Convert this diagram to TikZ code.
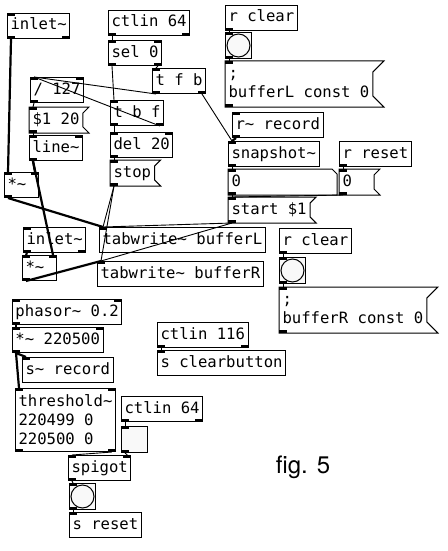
\documentclass[tikz,border=0pt]{standalone}
\usepackage{fontspec}
\newfontfamily\pdmono{DejaVu Sans Mono}
\newfontfamily\capfont{TeX Gyre Heros}
\newcommand{\pdfont}{\pdmono\fontsize{15.6}{19}\selectfont}
\newcommand{\pdtl}{\textasciitilde}

\begin{document}
\begin{tikzpicture}[x=1pt, y=-1pt]
    \tikzstyle{box}=[anchor=north west, inner xsep=3pt, inner ysep=0pt, font=\pdfont, align=left, fill=white, line width=1pt]
    \tikzstyle{one}=[box, minimum height=25pt, text height=11.5pt, text depth=3.5pt]
    \tikzstyle{obj}=[one, draw]
    \tikzstyle{bng}=[draw, anchor=north west, minimum size=26pt, inner sep=0pt, fill=gray!5, line width=1pt]
    \tikzstyle{edge}=[line width=1pt]
    \tikzstyle{ctl}=[line width=0.9pt]
    \tikzstyle{sig}=[line width=2.2pt]
  \useasboundingbox (0,0) rectangle (447,551);
  % left patch: recording
  \node[obj] (inl) at (7,13) {inlet\pdtl};
  \node[obj] (ctlA) at (108,10) {ctlin 64};
  \node[obj] (sel) at (108,40) {sel 0};
  \node[obj] (tfb) at (152,68) {t f b};
  \node[obj] (div) at (30,77) {/ 127};
  \node[one] (ramp) at (29,107) {\$1 20};
  \node[obj] (line) at (29,135) {line\pdtl};
  \node[obj] (tbf) at (110,100) {t b f};
  \node[obj] (del) at (110,132) {del 20};
  \node[one] (stop) at (110,160) {stop};
  \node[obj, text width=28pt] (mulA) at (4,172) {*\pdtl};
  \node[obj] (inl2) at (23,227) {inlet\pdtl};
  \node[obj, text width=28pt] (mulB) at (22,255) {*\pdtl};
  \node[obj] (twL) at (99,227) {tabwrite\pdtl{} bufferL};
  \node[obj] (twR) at (97,261) {tabwrite\pdtl{} bufferR};
  % position
  \node[obj] (rrec) at (232,112) {r\pdtl{} record};
  \node[obj] (snap) at (228,141) {snapshot\pdtl};
  \node[one, text width=102pt] (num) at (228,169) {0};
  \node[one] (start) at (228,197) {start \$1};
  \node[obj] (rrst) at (339,141) {r reset};
  \node[one, text width=28pt] (zero) at (339,169) {0};
  % clearing
  \node[obj] (clrA) at (225,5) {r clear};
  \node[bng] (bngA) at (225,32) {};
  \node[box, minimum height=45pt] (setL) at (225,61) {;\\bufferL const 0};
  \node[obj] (clrB) at (279,228) {r clear};
  \node[bng] (bngB) at (279,257) {};
  \node[box, minimum height=45pt] (setR) at (279,287) {;\\bufferR const 0};
  % bottom patch
  \node[obj] (phas) at (12,299) {phasor\pdtl{} 0.2};
  \node[obj] (mulC) at (12,327) {*\pdtl{} 220500};
  \node[obj] (srec) at (22,357) {s\pdtl{} record};
  \node[box, draw, minimum height=63pt] (thr) at (15,388) {threshold\pdtl\\220499 0\\220500 0};
  \node[obj] (ctlC) at (157,322) {ctlin 116};
  \node[obj] (sclr) at (157,350) {s clearbutton};
  \node[obj] (ctlD) at (121,396) {ctlin 64};
  \node[bng] (tgl) at (121,426) {};
  \node[obj] (spig) at (68,455) {spigot};
  \node[bng] (bngC) at (69,483) {};
  \node[obj] (srst) at (69,512) {s reset};
  \node[font=\capfont\fontsize{24}{28}\selectfont] (cap) at (303,467) {fig. 5};

  % message and number outlines
  \foreach \m/\d in {ramp/6, stop/6, start/6, zero/6, setL/11, setR/11}
    \draw[edge] (\m.north west) -- ([xshift=\d]\m.north east) -- ([yshift=-\d]\m.north east) -- ([yshift=\d]\m.south east) -- ([xshift=\d]\m.south east) -- (\m.south west) -- cycle;
  \draw[edge] (num.north west) -- ([xshift=-5]num.north east) -- ([yshift=-5]num.north east) -- (num.south east) -- (num.south west) -- cycle;
  \foreach \b in {bngA, bngB, bngC}
    \draw[edge] (\b.center) circle (11.5);

  % inlets and outlets
  \foreach \n in {inl,sel,tfb,div,ramp,line,tbf,del,stop,mulA,inl2,mulB,twL,twR,rrec,snap,num,start,zero,bngA,setL,bngB,setR,phas,mulC,srec,thr,sclr,tgl,spig,bngC,srst}
    \fill (\n.north west) rectangle ++(8,3);
  \foreach \n in {sel,div,line,del,mulA,mulB,phas,mulC,thr,spig}
    \fill (\n.north east) rectangle ++(-8,3);
  \foreach \n in {inl,ctlA,sel,tfb,div,ramp,line,tbf,del,stop,mulA,inl2,mulB,rrec,snap,num,start,rrst,zero,clrA,bngA,setL,clrB,bngB,setR,phas,mulC,thr,ctlC,ctlD,tgl,spig,bngC}
    \fill (\n.south west) rectangle ++(8,-3);
  \foreach \n in {inl,ctlA,sel,tfb,tbf,inl2,thr,ctlC,ctlD}
    \fill (\n.south east) rectangle ++(-8,-3);

  % connections
  \draw[sig] ([xshift=4]inl.south west) -- ([xshift=4]mulA.north west);
  \draw[ctl] ([xshift=4]ctlA.south west) -- ([xshift=4]sel.north west);
  \draw[ctl] ([xshift=4]sel.south west) -- ([xshift=4]tbf.north west);
  \draw[ctl] ([xshift=-4]sel.south east) -- ([xshift=4]tfb.north west);
  \draw[ctl] ([xshift=4]tfb.south west) -- ([xshift=4]div.north west);
  \draw[ctl] ([xshift=-4]tfb.south east) -- ([xshift=4]snap.north west);
  \draw[ctl] ([xshift=4]tbf.south west) -- ([xshift=4]del.north west);
  \draw[ctl] ([xshift=-4]tbf.south east) -- ([xshift=4]div.north west);
  \draw[ctl] ([xshift=4]del.south west) -- ([xshift=4]stop.north west);
  \draw[ctl] ([xshift=4]div.south west) -- ([xshift=4]ramp.north west);
  \draw[ctl] ([xshift=4]ramp.south west) -- ([xshift=4]line.north west);
  \draw[sig] ([xshift=4]line.south west) -- ([xshift=-4]mulA.north east);
  \draw[sig] ([xshift=4]line.south west) -- ([xshift=-4]mulB.north east);
  \draw[sig] ([xshift=4]mulA.south west) -- ([xshift=4]twL.north west);
  \draw[sig] ([xshift=4]inl2.south west) -- ([xshift=4]mulB.north west);
  \draw[sig] ([xshift=4]mulB.south west) -- ([xshift=4]twR.north west);
  \draw[ctl] ([xshift=4]stop.south west) -- ([xshift=4]twL.north west);
  \draw[ctl] ([xshift=4]stop.south west) -- ([xshift=4]twR.north west);
  \draw[ctl] ([xshift=4]start.south west) -- ([xshift=4]twL.north west);
  \draw[ctl] ([xshift=4]start.south west) -- ([xshift=4]twR.north west);
  \draw[sig] ([xshift=4]rrec.south west) -- ([xshift=4]snap.north west);
  \draw[ctl] ([xshift=4]snap.south west) -- ([xshift=4]num.north west);
  \draw[ctl] ([xshift=4]num.south west) -- ([xshift=4]start.north west);
  \draw[ctl] ([xshift=4]rrst.south west) -- ([xshift=4]zero.north west);
  \draw[ctl] ([xshift=4]zero.south west) -- ([xshift=4]start.north west);
  \draw[ctl] ([xshift=4]clrA.south west) -- ([xshift=4]bngA.north west);
  \draw[ctl] ([xshift=4]bngA.south west) -- ([xshift=4]setL.north west);
  \draw[ctl] ([xshift=4]clrB.south west) -- ([xshift=4]bngB.north west);
  \draw[ctl] ([xshift=4]bngB.south west) -- ([xshift=4]setR.north west);
  \draw[sig] ([xshift=4]phas.south west) -- ([xshift=4]mulC.north west);
  \draw[sig] ([xshift=4]mulC.south west) -- ([xshift=4]srec.north west);
  \draw[sig] ([xshift=4]mulC.south west) -- ([xshift=4]thr.north west);
  \draw[ctl] ([xshift=-4]thr.south east) -- ([xshift=4]spig.north west);
  \draw[ctl] ([xshift=4]ctlD.south west) -- ([xshift=4]tgl.north west);
  \draw[ctl] ([xshift=4]tgl.south west) -- ([xshift=-4]spig.north east);
  \draw[ctl] ([xshift=4]spig.south west) -- ([xshift=4]bngC.north west);
  \draw[ctl] ([xshift=4]bngC.south west) -- ([xshift=4]srst.north west);
  \draw[ctl] ([xshift=4]ctlC.south west) -- ([xshift=4]sclr.north west);
\end{tikzpicture}
\end{document}
